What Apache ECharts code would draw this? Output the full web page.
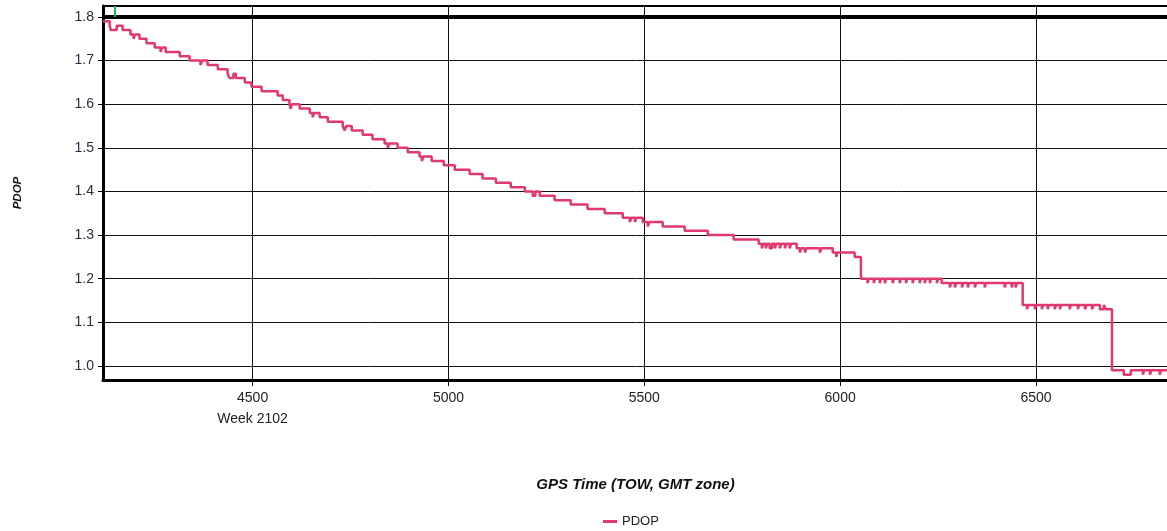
<!DOCTYPE html>
<html>
<head>
<meta charset="utf-8">
<script src="https://cdn.jsdelivr.net/npm/echarts@6/dist/echarts.min.js"></script>
<style>
html,body{margin:0;padding:0;background:#fff;}
#chart{width:1167px;height:531px;}
</style>
</head>
<body>
<div id="chart"></div>
<script>
// GPS time of week (s) at which PDOP changes, and the new PDOP value
const tow = [
  4118, 4135, 4138, 4153, 4168, 4188, 4196, 4200, 4211, 4229,
  4250, 4265, 4269, 4278, 4314, 4339, 4367, 4371, 4385, 4411,
  4436, 4441, 4451, 4457, 4480, 4497, 4523, 4564, 4577, 4594,
  4597, 4600, 4620, 4646, 4653, 4657, 4671, 4692, 4730, 4735,
  4739, 4753, 4781, 4806, 4837, 4845, 4849, 4870, 4896, 4926,
  4932, 4936, 4957, 4988, 5016, 5054, 5087, 5121, 5159, 5195,
  5215, 5222, 5233, 5271, 5312, 5355, 5399, 5445, 5463, 5467,
  5476, 5480, 5496, 5509, 5513, 5547, 5603, 5662, 5728, 5792,
  5800, 5804, 5810, 5814, 5820, 5826, 5833, 5837, 5846, 5850,
  5859, 5863, 5871, 5875, 5889, 5897, 5901, 5910, 5914, 5948,
  5952, 5981, 5990, 5993, 6037, 6053,
  6070, 6073, 6086, 6089, 6101, 6104, 6114, 6117, 6134, 6137,
  6152, 6155, 6168, 6171, 6185, 6188, 6203, 6206, 6216, 6219,
  6229, 6232, 6247, 6250, 6259,
  6280, 6283, 6293, 6296, 6311, 6314, 6326, 6329, 6344, 6347,
  6369, 6372, 6420, 6423, 6438, 6441, 6448, 6451, 6466,
  6477, 6480, 6497, 6500, 6515, 6518, 6530, 6533, 6548, 6551,
  6561, 6564, 6586, 6589, 6607, 6610, 6625, 6629, 6643, 6647,
  6663, 6673, 6678, 6694,
  6724, 6742, 6773, 6776, 6791, 6794, 6816, 6819, 6860
];
const pdop = [
  1.79, 1.78, 1.77, 1.78, 1.77, 1.76, 1.75, 1.76, 1.75, 1.74,
  1.73, 1.72, 1.73, 1.72, 1.71, 1.70, 1.69, 1.70, 1.69, 1.68,
  1.67, 1.66, 1.67, 1.66, 1.65, 1.64, 1.63, 1.62, 1.61, 1.60,
  1.59, 1.60, 1.59, 1.58, 1.57, 1.58, 1.57, 1.56, 1.55, 1.54,
  1.55, 1.54, 1.53, 1.52, 1.51, 1.50, 1.51, 1.50, 1.49, 1.48,
  1.47, 1.48, 1.47, 1.46, 1.45, 1.44, 1.43, 1.42, 1.41, 1.40,
  1.39, 1.40, 1.39, 1.38, 1.37, 1.36, 1.35, 1.34, 1.33, 1.34,
  1.33, 1.34, 1.33, 1.32, 1.33, 1.32, 1.31, 1.30, 1.29, 1.28,
  1.27, 1.28, 1.27, 1.28, 1.27, 1.28, 1.27, 1.28, 1.27, 1.28,
  1.27, 1.28, 1.27, 1.28, 1.27, 1.26, 1.27, 1.26, 1.27, 1.26,
  1.27, 1.26, 1.25, 1.26, 1.25, 1.20,
  1.19, 1.20, 1.19, 1.20, 1.19, 1.20, 1.19, 1.20, 1.19, 1.20,
  1.19, 1.20, 1.19, 1.20, 1.19, 1.20, 1.19, 1.20, 1.19, 1.20,
  1.19, 1.20, 1.19, 1.20, 1.19,
  1.18, 1.19, 1.18, 1.19, 1.18, 1.19, 1.18, 1.19, 1.18, 1.19,
  1.18, 1.19, 1.18, 1.19, 1.18, 1.19, 1.18, 1.19, 1.14,
  1.13, 1.14, 1.13, 1.14, 1.13, 1.14, 1.13, 1.14, 1.13, 1.14,
  1.13, 1.14, 1.13, 1.14, 1.13, 1.14, 1.13, 1.14, 1.13, 1.14,
  1.13, 1.14, 1.13, 0.99,
  0.98, 0.99, 0.98, 0.99, 0.98, 0.99, 0.98, 0.99, 0.99
];
const xTicks = [4500, 5000, 5500, 6000, 6500];
const yTicks = [1.0, 1.1, 1.2, 1.3, 1.4, 1.5, 1.6, 1.7, 1.8];
const weekLabel = 'Week 2102';
const limitLine = 1.8;
const markerTow = 4148;

const data = tow.map((t, i) => [t, pdop[i]]);
const FONT = 'Liberation Sans, Arial, sans-serif';

const chart = echarts.init(document.getElementById('chart'), null, {renderer: 'canvas'});
chart.setOption({
  animation: false,
  backgroundColor: '#fff',
  grid: {
    left: 103, top: 6, width: 1074, bottom: 151,
    outerBoundsMode: 'none', containLabel: false,
    show: true, borderColor: '#000', borderWidth: 2, backgroundColor: 'transparent'
  },
  legend: {
    data: ['PDOP'], left: 598, top: 510,
    itemWidth: 14, itemHeight: 3, icon: 'rect', itemGap: 6,
    textStyle: {fontFamily: FONT, fontSize: 13, color: '#222'}
  },
  xAxis: {
    type: 'value', min: 4118, max: 6860,
    name: 'GPS Time (TOW, GMT zone)', nameLocation: 'middle', nameGap: 97,
    nameTextStyle: {fontFamily: FONT, fontSize: 15, fontWeight: 'bold', fontStyle: 'italic', color: '#111', padding: [0, 9, 0, 0]},
    axisLine: {show: true, onZero: false, lineStyle: {color: '#000', width: 3}},
    axisTick: {show: true, customValues: xTicks, length: 6, lineStyle: {color: '#000', width: 1}},
    axisLabel: {
      customValues: xTicks, margin: 8, color: '#222', fontFamily: FONT, fontSize: 14, lineHeight: 21,
      formatter: v => v === 4500 ? v + '\n' + weekLabel : String(v)
    },
    splitLine: {show: true, lineStyle: {color: '#111', width: 1}}
  },
  yAxis: {
    type: 'value', min: 0.9679, max: 1.8252,
    name: 'PDOP', nameLocation: 'middle', nameGap: 79, nameRotate: 90,
    nameTextStyle: {fontFamily: FONT, fontSize: 11.5, fontWeight: 'bold', fontStyle: 'italic', color: '#111'},
    axisLine: {show: true, onZero: false, lineStyle: {color: '#000', width: 3}},
    axisTick: {show: true, customValues: yTicks, length: 5, lineStyle: {color: '#000', width: 1}},
    axisLabel: {
      customValues: yTicks, margin: 9, color: '#2a2a44', fontFamily: FONT, fontSize: 14,
      formatter: v => v.toFixed(1)
    },
    splitLine: {show: true, lineStyle: {color: '#111', width: 1}}
  },
  series: [
    {
      name: 'PDOP', type: 'line', step: 'end', data: data,
      showSymbol: false, symbol: 'none', z: 3,
      lineStyle: {color: '#e0396b', width: 2.5},
      itemStyle: {color: '#e0396b'},
      markLine: {
        silent: true, symbol: 'none', label: {show: false},
        data: [
          {yAxis: limitLine, lineStyle: {color: '#000', width: 4, type: 'solid'}},
          [{coord: [markerTow, limitLine]}, {coord: [markerTow, 1.8252], lineStyle: {color: '#19b85e', width: 2, type: 'solid'}}]
        ]
      }
    }
  ]
});
</script>
</body>
</html>
